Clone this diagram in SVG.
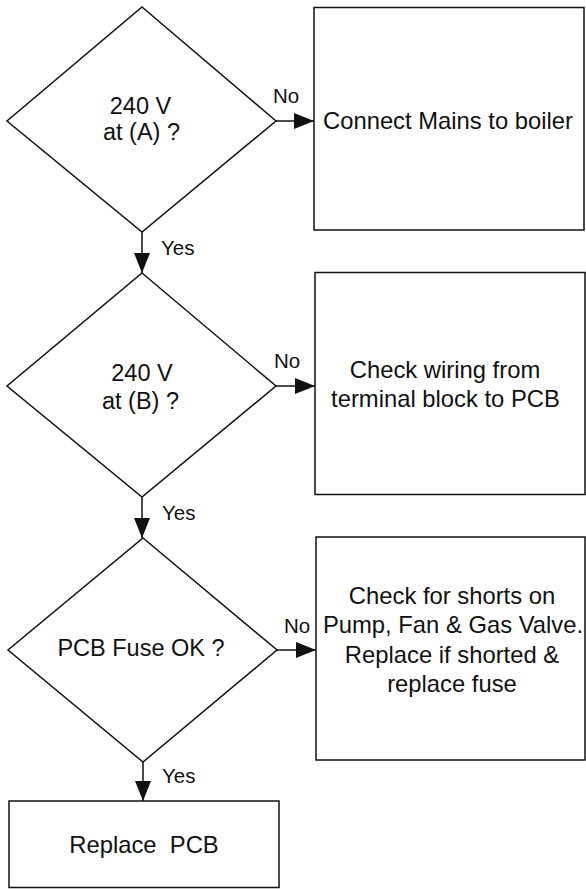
<svg xmlns="http://www.w3.org/2000/svg" width="586" height="889" viewBox="0 0 586 889">
<style>
.shape{fill:#fff;stroke:#111;stroke-width:1.5}
.line{fill:none;stroke:#111;stroke-width:1.5}
text{font-family:"Liberation Sans",Arial,sans-serif;fill:#111;white-space:pre}
.t{font-size:23.5px;text-anchor:middle}
.bt{font-size:23.8px;text-anchor:middle}
.lbl{font-size:20.5px}
</style>
<defs>
<marker id="ah" markerWidth="20" markerHeight="16" refX="20" refY="8" orient="auto" markerUnits="userSpaceOnUse">
<path d="M0,0 L20,8 L0,16 Z" fill="#111"/>
</marker>
</defs>
<rect width="586" height="889" fill="#fff"/>
<g id="connectors">
<line class="line" x1="276" y1="121" x2="314" y2="121" marker-end="url(#ah)"/>
<line class="line" x1="276" y1="386" x2="315" y2="386" marker-end="url(#ah)"/>
<line class="line" x1="277" y1="650" x2="316" y2="650" marker-end="url(#ah)"/>
<line class="line" x1="142" y1="232" x2="142" y2="273" marker-end="url(#ah)"/>
<line class="line" x1="142" y1="497" x2="142" y2="538" marker-end="url(#ah)"/>
<line class="line" x1="143" y1="762" x2="143" y2="801" marker-end="url(#ah)"/>
<text class="lbl" x="273" y="103">No</text>
<text class="lbl" x="274" y="368">No</text>
<text class="lbl" x="284" y="633">No</text>
<text class="lbl" x="161" y="255">Yes</text>
<text class="lbl" x="162" y="520">Yes</text>
<text class="lbl" x="162" y="783">Yes</text>
</g>
<g id="d1">
<polygon class="shape" points="142,7 276,121 142,232 7,121"/>
<text class="t" x="140.5" y="114">240 V</text>
<text class="t" x="141.5" y="140">at (A) ?</text>
</g>
<g id="b1">
<rect class="shape" x="314" y="7.5" width="270" height="222.5"/>
<text class="bt" x="448" y="129">Connect Mains to boiler</text>
</g>
<g id="d2">
<polygon class="shape" points="142,273 276,386 142,497 7,386"/>
<text class="t" x="142" y="381">240 V</text>
<text class="t" x="140.5" y="409">at (B) ?</text>
</g>
<g id="b2">
<rect class="shape" x="315" y="272.5" width="270" height="222"/>
<text class="bt" x="445" y="378">Check wiring from</text>
<text class="bt" x="445.5" y="407">terminal block to PCB</text>
</g>
<g id="d3">
<polygon class="shape" points="143,538 277,650 143,762 8,650"/>
<text class="t" x="141" y="656">PCB Fuse OK ?</text>
</g>
<g id="b3">
<rect class="shape" x="316" y="537" width="269" height="223"/>
<text class="bt" x="452" y="604">Check for shorts on</text>
<text class="bt" x="453" y="633">Pump, Fan &amp; Gas Valve.</text>
<text class="bt" x="452" y="663">Replace if shorted &amp;</text>
<text class="bt" x="452" y="692">replace fuse</text>
</g>
<g id="b4">
<rect class="shape" x="9" y="801" width="270" height="86.5"/>
<text class="bt" x="144" y="853">Replace  PCB</text>
</g>
</svg>
